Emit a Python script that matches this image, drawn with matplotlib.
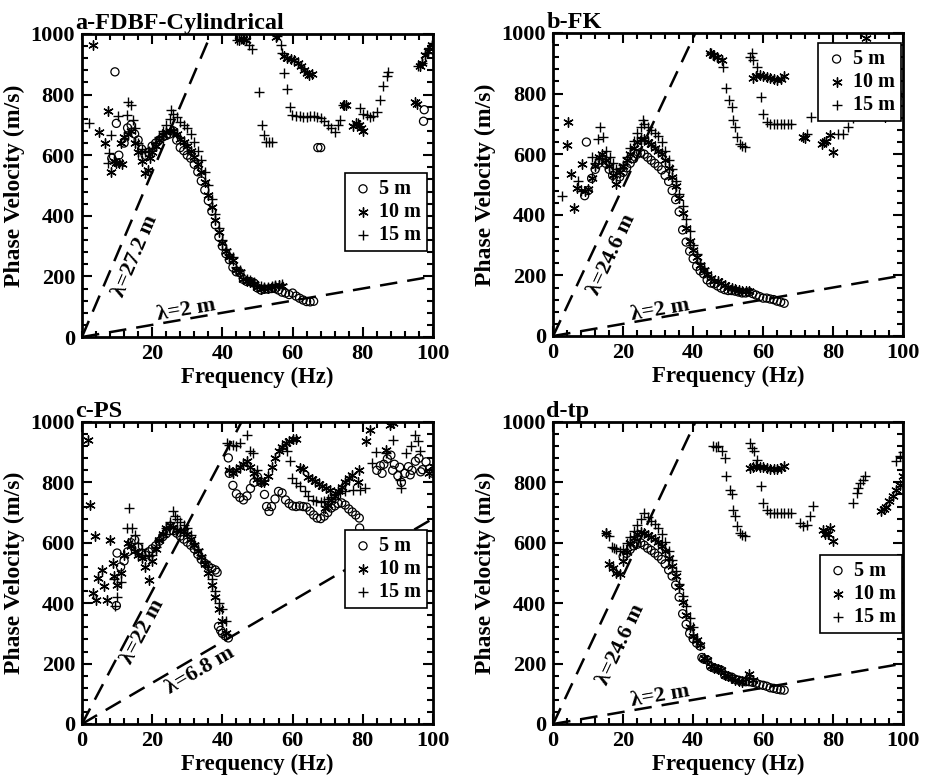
import matplotlib
matplotlib.use('Agg')
import matplotlib.pyplot as plt
import numpy as np
from matplotlib.ticker import MultipleLocator

plt.rcParams['font.family'] = ['Liberation Serif', 'DejaVu Serif']
plt.rcParams['font.weight'] = 'bold'

# ---- a-FDBF-Cylindrical ----
A5_F = [8.5, 9.4, 9.8, 10.5, 12, 13, 14, 15, 16, 17, 18, 19, 20, 21, 22, 23, 24, 25, 26, 27, 28, 29, 30,
        31, 32, 33, 34, 35, 36, 37, 38, 39, 40, 41, 42, 43, 44, 45, 46, 47, 48, 49, 50, 51, 52, 53, 54,
        55, 56, 57, 58, 59, 60, 61, 62, 63, 64, 65, 66, 67.2, 68, 97.5, 97.3]
A5_V = [590, 875, 705, 600, 640, 690, 700, 670, 650, 620, 600, 610, 630, 640, 650, 660, 665, 670, 680, 650,
        625, 615, 600, 590, 570, 545, 515, 485, 450, 415, 370, 330, 300, 275, 255, 230, 215, 212, 190, 183,
        183, 178, 162, 155, 158, 158, 160, 160, 155, 148, 145, 140, 145, 135, 128, 122, 117, 116, 118, 625,
        625, 750, 712]
A10_F = [3.2, 4.8, 6.5, 7.5, 8.4, 9, 9.8, 10.5, 11.5, 11, 12, 13, 14, 15, 16, 17, 18, 18.8, 19.5, 20, 21,
         22, 23, 24, 25, 26, 27, 28, 29, 30, 31, 32, 33, 34, 35, 36, 37, 38, 39, 40, 41, 42, 43, 44, 45,
         46, 47, 48, 49, 50, 51, 52, 53, 54, 55, 56, 57,
         44.8, 45.8, 46.8, 55.2, 57.6, 58.5, 59.5, 60.5, 61.5, 62.5, 63.3, 64, 64.8, 65.5,
         74.6, 75.2, 77.2, 78, 78.8, 79.5, 80.2, 95, 95.4, 96.3, 97, 97.8, 98.6, 99.6]
A10_V = [965, 678, 640, 745, 546, 580, 573, 575, 570, 640, 660, 670, 680, 640, 610, 580, 540, 550, 590,
         610, 630, 650, 665, 675, 680, 680, 670, 655, 645, 630, 615, 595, 570, 545, 510, 470, 430, 385,
         345, 310, 285, 265, 255, 220, 215, 190, 185, 183, 175, 165, 160, 162, 163, 165, 168, 170, 168,
         980, 982, 980, 990, 926, 922, 918, 915, 905, 895, 880, 870, 865, 868,
         765, 765, 695, 705, 700, 690, 680, 775, 770, 893, 905, 930, 945, 965]
A15_F = [2, 7.3, 7.6, 8.4, 10.3, 12.7, 13, 14, 14.5, 15, 16, 17, 18, 19, 20, 21, 22, 23, 24, 25, 25.4, 26,
         27, 28, 29, 30, 31, 32, 33, 34, 35, 36, 37, 38, 39, 40, 41, 42, 43, 44, 45, 46, 47, 48, 49, 50,
         51, 52, 53, 54, 55, 56, 57,
         44.3, 45.3, 46.3, 47.5, 48.5, 50.5, 51.4, 51.9, 52.4, 53.3, 54, 55.7, 56.6, 57.1, 57.6, 58.3,
         59.3, 59.9, 61, 62, 63, 64, 65, 66, 67, 68, 69, 70, 71, 72, 73, 73.6, 74.5, 78.5, 79.3, 80,
         81.2, 82, 83, 84, 85, 85.9, 86.9, 87.3, 95.8, 97, 98.2, 99, 100]
A15_V = [706, 575, 606, 667, 728, 733, 777, 766, 716, 690, 640, 620, 610, 615, 625, 640, 660, 680, 700,
         720, 750, 735, 725, 710, 700, 690, 670, 645, 615, 585, 545, 500, 455, 405, 360, 320, 290, 275,
         265, 230, 220, 195, 190, 188, 180, 170, 168, 165, 165, 168, 170, 172, 175,
         980, 985, 982, 965, 950, 810, 700, 667, 645, 645, 645, 993, 965, 937, 871, 818,
         760, 733, 728, 728, 727, 727, 728, 728, 726, 722, 712, 700, 690, 678, 700, 717, 765, 705, 755,
         735, 733, 725, 728, 744, 783, 827, 860, 876, 893, 905, 937, 955, 970]

# ---- b-FK ----
B5_F = [9, 9.5, 10, 11, 12, 13, 14, 15, 16, 17, 18, 19, 20, 21, 22, 23, 24, 25, 26, 27, 28, 29, 30, 31,
        32, 33, 34, 35, 36, 37, 38, 39, 40, 41, 42, 43, 44, 45, 46, 47, 48, 49, 50, 51, 52, 53, 54, 55,
        56, 57, 58, 59, 60, 61, 62, 63, 64, 65, 66]
B5_V = [463, 640, 480, 520, 550, 570, 580, 570, 550, 530, 515, 525, 540, 555, 570, 585, 600, 605, 600,
        590, 580, 570, 560, 548, 530, 510, 480, 450, 410, 350, 310, 280, 255, 230, 215, 205, 185, 175,
        172, 165, 158, 153, 150, 150, 148, 145, 142, 142, 145, 140, 135, 130, 125, 125, 122, 120, 115,
        112, 108]
B10_F = [4, 4.3, 5.2, 5.9, 6.7, 8.1, 9, 10, 11, 12, 13, 14, 15, 16, 17, 18, 19, 20, 21, 22, 23, 24, 25,
         26, 27, 28, 29, 30, 31, 32, 33, 34, 35, 36, 37, 38, 39, 40, 41, 42, 43, 44, 45, 46, 47, 48, 49,
         50, 51, 52, 53, 54, 55, 56,
         44.8, 45.6, 46.7, 48.1, 57.1, 58, 59, 60, 61, 62, 63, 64, 65, 66, 71.4, 72, 76.7, 77.3, 78, 79,
         80, 89.5, 94.8, 97.1, 99]
B10_V = [629, 706, 535, 424, 490, 568, 480, 485, 520, 560, 590, 600, 580, 560, 530, 500, 540, 560, 580,
         600, 620, 640, 650, 650, 640, 632, 622, 612, 600, 580, 555, 525, 495, 455, 405, 355, 315, 285,
         262, 235, 218, 205, 190, 182, 180, 176, 168, 162, 160, 156, 152, 150, 150, 150,
         933, 928, 922, 911, 850, 858, 861, 858, 855, 852, 848, 845, 848, 858, 657, 652, 634, 640, 645,
         662, 607, 983, 723, 756, 795]
B15_F = [2.4, 7.1, 8, 11, 12, 12.9, 13.3, 14.3, 15, 16.2, 17, 18, 19, 20, 21, 22, 23, 24, 25, 25.7, 26,
         27, 28, 29, 30, 31, 32, 33, 34, 35, 36, 37, 38, 39, 40, 41, 42, 43,
         45.2, 46, 47.1, 48.6, 49.5, 50.3, 51, 51.4, 51.9, 52.4, 53.3, 54, 54.8, 56.2, 56.7, 57.1, 58.1,
         59.5, 60, 61, 62, 63, 64, 65, 66, 67, 68, 72.4, 73.8, 81.4, 82.9, 84.3, 85.7, 86.5]
B15_V = [463, 513, 480, 590, 570, 651, 690, 657, 610, 590, 570, 550, 555, 565, 590, 620, 645, 670, 690,
         712, 700, 690, 680, 670, 660, 640, 610, 580, 550, 510, 470, 430, 385, 345, 300, 270, 240, 225,
         933, 925, 917, 889, 817, 778, 756, 712, 690, 657, 635, 628, 623, 922, 933, 911, 889,
         790, 734, 707, 700, 700, 700, 700, 700, 700, 700, 668, 723, 668, 668, 690, 718, 735]

# ---- c-PS ----
C5_F = [9.8, 10, 11, 12, 13, 14, 15, 16, 17, 18, 19, 20, 21, 22, 23, 24, 25, 26, 27, 28, 29, 30, 31, 32,
        33, 34, 35, 36, 37, 38, 38.5, 38.9, 39.5, 40, 40.8, 41.7,
        41.7, 42, 43, 44, 45, 46, 47, 48, 49, 50, 51, 52, 52.6, 53.3, 54, 55, 56, 57, 58, 59, 60, 61, 62,
        63, 64, 65, 66, 67, 68, 69, 70, 71, 72, 73, 74, 75, 76, 77, 78, 79, 79.1,
        84, 85, 85.5, 86, 87, 88, 88.5, 89, 90, 90.5, 91, 92, 93, 93.5, 94, 95, 96, 96.5, 97, 98, 99, 100]
C5_V = [392, 566, 520, 540, 570, 600, 610, 585, 565, 560, 570, 580, 590, 605, 620, 630, 640, 640, 632,
        622, 612, 602, 592, 580, 562, 545, 532, 522, 515, 510, 502, 323, 310, 300, 292, 285,
        881, 830, 790, 762, 750, 742, 755, 780, 800, 818, 800, 760, 720, 704, 720, 745, 770, 765, 742,
        730, 722, 720, 722, 720, 718, 705, 692, 682, 680, 688, 700, 715, 722, 730, 732, 725, 712, 702,
        692, 682, 649,
        840, 855, 830, 860, 878, 890, 840, 860, 822, 850, 800, 830, 852, 825, 840, 870, 880, 835, 842,
        868, 845, 830]
C10_F = [1.6, 2.2, 3.8, 3.1, 4.1, 4.7, 5.7, 6.2, 7.1, 8.1, 8.8, 9, 10, 11, 12, 13, 14, 15, 16, 17, 18,
         19, 20, 21, 22, 23, 24, 25, 26, 27, 28, 29, 30, 31, 32, 33, 34, 35, 36, 37, 38, 39, 40, 41,
         42, 43, 44, 45, 46, 47, 48, 49, 50, 51, 52, 53, 54, 55, 56, 57, 58, 59, 60, 61, 62.1, 63,
         64.5, 65.5, 66.5, 67.5, 68.5, 69.5, 70.6, 69.2, 70, 71, 72, 73, 74, 75, 76, 77, 78.7, 79, 81,
         82, 86.7, 87.7, 88.6, 99, 100]
C10_V = [941, 726, 621, 434, 412, 483, 511, 456, 412, 610, 533, 489, 460, 500, 560, 600, 590, 572, 560,
         548, 520, 478, 540, 580, 610, 630, 648, 658, 652, 642, 640, 640, 630, 612, 592, 572, 552, 530,
         500, 460, 420, 380, 340, 300,
         842, 830, 840, 850, 860, 870, 850, 830, 812, 802, 800, 820, 850, 880, 905, 918, 930, 938, 945,
         945, 848, 845, 818, 812, 805, 795, 788, 782, 776, 715, 725, 740, 755, 770, 785, 800, 815, 825,
         800, 842, 936, 975, 908, 991, 996, 831, 853]
C15_F = [9.5, 10, 9, 11, 12.8, 13.3, 14.2, 15.2, 16, 17, 18, 19, 20, 21, 22, 23, 24, 25, 25.9, 26.5, 27,
         28, 29, 30, 31, 32, 33, 34, 35, 36, 37, 38, 39, 40, 41,
         41.2, 42, 43.1, 44, 45, 46.9, 47.8, 48.8, 50, 58.3, 59.2, 59.7, 61.1, 62.1, 63.5, 64.5, 65.9,
         66.8, 68, 69, 70, 71, 72, 73.5, 75, 77.3, 79.1, 80.5, 82.5, 83.9, 86.7, 88.5, 90.5, 91, 92.4,
         93.8, 94.8, 95.7, 96.2]
C15_V = [390, 420, 480, 470, 649, 715, 649, 627, 600, 580, 560, 555, 560, 585, 610, 630, 650, 670, 704,
         690, 680, 670, 660, 650, 625, 600, 580, 560, 540, 520, 480, 440, 400, 380, 340,
         930, 925, 925, 920, 930, 957, 903, 897, 840, 903, 870, 815, 798, 787, 770, 754, 743,
         737, 735, 738, 745, 752, 760, 765, 770, 776, 776, 780, 864, 902, 897, 940, 809, 781, 897,
         920, 958, 936, 903]

# ---- d-tp ----
D5_F = [20, 21, 22, 23, 24, 25, 26, 27, 28, 29, 30, 31, 32, 33, 34, 35, 36, 37, 38, 39, 40, 41, 42, 42.5,
        43, 44, 45, 46, 47, 48, 49, 50, 51, 52, 53, 54, 55, 56, 57, 58, 59, 60, 61, 62, 63, 64, 65, 66]
D5_V = [555, 565, 578, 590, 595, 600, 592, 582, 575, 566, 556, 545, 530, 510, 490, 460, 420, 365, 330,
        300, 282, 268, 258, 220, 215, 212, 190, 185, 182, 178, 162, 158, 155, 148, 145, 142, 140, 140,
        138, 135, 130, 128, 125, 120, 118, 115, 113, 112]
D10_F = [15.2, 16, 17, 18, 19, 20, 21, 22, 23, 24, 25, 26, 27, 28, 29, 30, 31, 32, 33, 34, 35, 36, 37,
         38, 39, 40, 41, 42, 43, 44, 45, 46, 47, 48, 49, 50, 51, 52, 53, 54, 55, 56, 57,
         56.2, 57, 58, 59, 60, 61, 62, 63, 64, 65, 66, 77.1, 77.8, 78.5, 79.2, 80,
         93.8, 94.5, 95, 96, 97, 98, 99, 100]
D10_V = [632, 530, 515, 500, 495, 540, 570, 598, 615, 628, 635, 632, 626, 620, 612, 602, 590, 572, 550,
         522, 490, 452, 405, 362, 322, 292, 278, 262, 218, 212, 192, 186, 182, 180, 162, 158, 152, 146,
         142, 140, 150, 166, 145,
         848, 850, 855, 852, 850, 848, 845, 843, 845, 848, 855, 643, 628, 630, 650, 605,
         704, 712, 720, 738, 755, 775, 790, 820]
D15_F = [15.2, 16, 16.8, 17.5, 18, 19, 20, 21, 22, 23, 24, 25, 26, 27, 28, 29, 30, 31, 32, 33, 34, 35,
         36, 37, 38, 39, 40,
         45.7, 46.5, 47.1, 48.1, 49, 49.5, 50.5, 51, 51.4, 51.9, 52.4, 53.3, 54, 54.8, 56.2, 56.7, 57.3,
         58.1, 59.5, 60, 61, 61.9, 63, 64, 65, 66, 67, 68, 70.5, 71.4, 72.4, 73.3, 74.3,
         85.7, 86.7, 87.1, 87.6, 88.6, 89, 98, 99, 100]
D15_V = [632, 622, 585, 582, 580, 572, 580, 600, 620, 640, 660, 680, 700, 685, 672, 662, 650, 630, 602,
         572, 542, 505, 465, 425, 390, 350, 320,
         919, 918, 919, 903, 881, 820, 776, 760, 710, 688, 655, 632, 625, 621, 930, 914, 905,
         875, 787, 732, 710, 699, 697, 697, 697, 697, 697, 697, 666, 655, 660, 688, 721,
         732, 765, 781, 798, 809, 820, 870, 886, 900]

panels = [
    dict(title='a-FDBF-Cylindrical', pos=[0.0886, 0.5685, 0.3795, 0.388],
         data=[(A5_F, A5_V), (A10_F, A10_V), (A15_F, A15_V)],
         lams=[(27.2, 'λ=27.2 m', 15.2, 268), (2, 'λ=2 m', 29.6, 88)],
         leg=(0.749, 0.541), xticks=[20, 40, 60, 80, 100]),
    dict(title='b-FK', pos=[0.598, 0.5698, 0.3784, 0.388],
         data=[(B5_F, B5_V), (B10_F, B10_V), (B15_F, B15_V)],
         lams=[(24.6, 'λ=24.6 m', 16.8, 268), (2, 'λ=2 m', 30.6, 86)],
         leg=(0.758, 0.966), xticks=[0, 20, 40, 60, 80, 100]),
    dict(title='c-PS', pos=[0.0886, 0.073, 0.3795, 0.3867],
         data=[(C5_F, C5_V), (C10_F, C10_V), (C15_F, C15_V)],
         lams=[(22, 'λ=22 m', 17.4, 305), (6.8, 'λ=6.8 m', 33.6, 178)],
         leg=(0.749, 0.642), xticks=[0, 20, 40, 60, 80, 100]),
    dict(title='d-tp', pos=[0.598, 0.073, 0.3784, 0.3867],
         data=[(D5_F, D5_V), (D10_F, D10_V), (D15_F, D15_V)],
         lams=[(24.6, 'λ=24.6 m', 19.3, 263), (2, 'λ=2 m', 30.5, 92)],
         leg=(0.762, 0.56), xticks=[0, 20, 40, 60, 80, 100]),
]

labels = ['5 m', '10 m', '15 m']
styles = [dict(marker='o', facecolors='none', edgecolors='k', s=34, linewidths=0.9),
          dict(marker=(6, 2, 0), c='k', s=46, linewidths=1.0),
          dict(marker='+', c='k', s=62, linewidths=1.0)]

fig = plt.figure(figsize=(9.25, 7.81), dpi=100)

for p in panels:
    ax = fig.add_axes(p['pos'])
    for (f, v), lab, st in zip(p['data'], labels, styles):
        ax.scatter(f, v, label=lab, zorder=3, **st)

    ax.set_xlim(0, 100)
    ax.set_ylim(0, 1000)

    # wavelength limit lines v = lambda * f
    fx = np.array([0, 100])
    for lam, txt, tx, ty in p['lams']:
        ax.plot(fx, lam * fx, color='k', lw=1.8, dashes=(7, 4), zorder=2)
        ax.text(tx, ty, txt, rotation=np.degrees(np.arctan(lam)),
                transform_rotates_text=True, rotation_mode='anchor',
                ha='center', va='center', fontsize=16, fontweight='bold')

    ax.set_xticks(p['xticks'])
    ax.xaxis.set_minor_locator(MultipleLocator(4))
    ax.yaxis.set_major_locator(MultipleLocator(200))
    ax.yaxis.set_minor_locator(MultipleLocator(40))
    ax.tick_params(which='both', direction='in', top=True, right=True, labelsize=16, width=1.5, pad=5)
    ax.tick_params(which='major', length=7)
    ax.tick_params(which='minor', length=4)
    for sp in ax.spines.values():
        sp.set_linewidth(2)

    ax.set_xlabel('Frequency (Hz)', fontsize=16.5, fontweight='bold', labelpad=2)
    ax.set_ylabel('Phase Velocity (m/s)', fontsize=17, fontweight='bold', labelpad=4)
    ax.text(-0.02, 1.0, p['title'], transform=ax.transAxes, fontsize=17.5,
            fontweight='bold', ha='left', va='bottom')

    leg = ax.legend(loc='upper left', bbox_to_anchor=p['leg'], borderaxespad=0,
                    fancybox=False, edgecolor='k', framealpha=1, fontsize=14.5,
                    handletextpad=0.2, handlelength=1.2, borderpad=0.3, labelspacing=0.15)
    leg.get_frame().set_linewidth(1.2)

fig.savefig('out.png', dpi=100)
